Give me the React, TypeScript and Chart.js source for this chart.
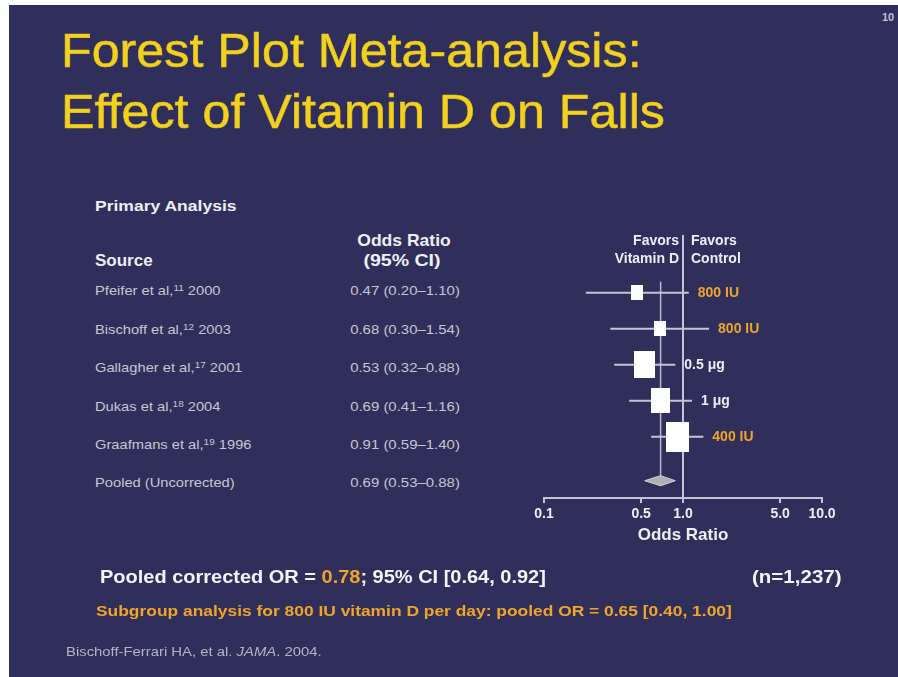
import React, { useEffect, useRef } from "react";
import { Chart, registerables } from "chart.js";

Chart.register(...registerables);

// ---------- data ----------
const studies = ["Pfeifer et al,", "Bischoff et al,", "Gallagher et al,", "Dukas et al,", "Graafmans et al,"];
const refNums = ["11", "12", "17", "18", "19"];
const years = ["2000", "2003", "2001", "2004", "1996"];
const oddsRatio = [0.47, 0.68, 0.53, 0.69, 0.91];
const ciLow = [0.2, 0.3, 0.32, 0.41, 0.59];
const ciHigh = [1.1, 1.54, 0.88, 1.16, 1.4];
const weights = [8.5, 8.5, 27, 23.5, 32.5];
const doses = ["800 IU", "800 IU", "0.5 μg", "1 μg", "400 IU"];
const pooledLabel = "Pooled (Uncorrected)";
const pooledOR = 0.69;
const pooledLow = 0.53;
const pooledHigh = 0.88;
const tickValues = [0.1, 0.5, 1, 5, 10];
const tickLabels = ["0.1", "0.5", "1.0", "5.0", "10.0"];
const favorsLeft = ["Favors", "Vitamin D"];
const favorsRight = ["Favors", "Control"];

// ---------- styles ----------
const FONT = "'Liberation Sans', Arial, Helvetica, sans-serif";
const NAVY = "#302f5b";
const YELLOW = "#f1d31f";
const ORANGE = "#eea52a";
const WHITE = "#eeeef4";
const ROWGRAY = "#c6c6d2";
const LINEGRAY = "#c4c4d6";

const Y_TOP = -1.6;
const Y_BOTTOM = 5.7;
const POOLED_ROW = studies.length + 0.22;

type TxtProps = {
  x: number;
  y: number;
  fs: number;
  bold?: boolean;
  italic?: boolean;
  color: string;
  sx?: number;
  align?: "left" | "center";
  stroke?: string;
  children: React.ReactNode;
};

function Txt({ x, y, fs, bold, italic, color, sx = 1, align = "left", stroke, children }: TxtProps) {
  const top = y - 0.8465 * fs;
  const transform =
    align === "center" ? `translateX(-50%) scaleX(${sx})` : `scaleX(${sx})`;
  return (
    <div
      style={{
        position: "absolute",
        left: x,
        top,
        fontFamily: FONT,
        fontSize: fs,
        lineHeight: 1,
        fontWeight: bold ? 700 : 400,
        fontStyle: italic ? "italic" : "normal",
        color,
        whiteSpace: "nowrap",
        transform,
        transformOrigin: align === "center" ? "center" : "left",
        WebkitTextStroke: stroke,
      }}
    >
      {children}
    </div>
  );
}

const Sup = ({ children }: { children: React.ReactNode }) => (
  <span style={{ fontSize: "0.68em", position: "relative", top: "-0.45em" }}>{children}</span>
);

const fmt = (v: number) => v.toFixed(2);

export default function App() {
  const canvasRef = useRef<HTMLCanvasElement>(null);

  useEffect(() => {
    const canvas = canvasRef.current;
    if (!canvas) return;

    const boxImgs = weights.map((w) => {
      const c = document.createElement("canvas");
      c.width = Math.round(4 * Math.sqrt(w));
      c.height = Math.round(5.2 * Math.sqrt(w));
      const g = c.getContext("2d")!;
      g.fillStyle = "#ffffff";
      g.fillRect(0, 0, c.width, c.height);
      return c;
    });

    const dh = 0.14;

    const labelsPlugin = {
      id: "forestLabels",
      afterDatasetsDraw(chart: any) {
        const { ctx, chartArea, scales } = chart;
        const x = scales.x;
        const y = scales.y;
        ctx.save();
        ctx.font = `bold 14px ${FONT}`;
        ctx.textBaseline = "middle";
        const x1 = x.getPixelForValue(1);
        ctx.fillStyle = WHITE;
        ctx.textAlign = "right";
        ctx.fillText(favorsLeft[0], x1 - 4, chartArea.top + 6);
        ctx.fillText(favorsLeft[1], x1 - 4, chartArea.top + 24);
        ctx.textAlign = "left";
        ctx.fillText(favorsRight[0], x1 + 8, chartArea.top + 6);
        ctx.fillText(favorsRight[1], x1 + 8, chartArea.top + 24);
        doses.forEach((d, i) => {
          ctx.fillStyle = d.includes("IU") ? ORANGE : WHITE;
          ctx.fillText(d, x.getPixelForValue(ciHigh[i]) + 9, y.getPixelForValue(i));
        });
        ctx.restore();
      },
    };

    const datasets: any[] = [
      {
        label: "boxes",
        data: oddsRatio.map((v, i) => ({ x: v, y: i })),
        pointStyle: (c: any) => boxImgs[c.dataIndex] ?? "rect",
        pointRadius: 5,
        showLine: false,
      },
      {
        label: "pooled",
        data: [
          { x: pooledLow, y: POOLED_ROW },
          { x: pooledOR, y: POOLED_ROW - dh },
          { x: pooledHigh, y: POOLED_ROW },
          { x: pooledOR, y: POOLED_ROW + dh },
          { x: pooledLow, y: POOLED_ROW },
        ],
        showLine: true,
        fill: "shape",
        backgroundColor: "#b0b0b4",
        borderColor: "#d2d2d6",
        borderWidth: 1,
        pointRadius: 0,
        tension: 0,
      },
      ...ciLow.map((lo, i) => ({
        label: "ci" + i,
        data: [
          { x: lo, y: i },
          { x: ciHigh[i], y: i },
        ],
        showLine: true,
        borderColor: LINEGRAY,
        borderWidth: 2,
        pointRadius: 0,
      })),
      {
        label: "pooledLine",
        data: [
          { x: pooledOR, y: -0.3 },
          { x: pooledOR, y: POOLED_ROW },
        ],
        showLine: true,
        borderColor: "#b8b8cc",
        borderWidth: 1.5,
        pointRadius: 0,
      },
      {
        label: "refLine",
        data: [
          { x: 1, y: Y_TOP },
          { x: 1, y: Y_BOTTOM },
        ],
        showLine: true,
        borderColor: LINEGRAY,
        borderWidth: 2,
        pointRadius: 0,
      },
    ];

    const chart = new Chart(canvas, {
      type: "scatter",
      data: { datasets },
      options: {
        animation: false,
        responsive: false,
        maintainAspectRatio: false,
        devicePixelRatio: 1,
        events: [],
        layout: { padding: { left: 544, right: 76, top: 235, bottom: 129 } },
        plugins: {
          legend: { display: false },
          tooltip: { enabled: false },
        },
        scales: {
          x: {
            type: "logarithmic",
            position: "bottom",
            min: 0.1,
            max: 10,
            afterBuildTicks: (scale: any) => {
              scale.ticks = tickValues.map((v) => ({ value: v }));
            },
            afterFit: (scale: any) => {
              scale.height = 50;
            },
            ticks: {
              autoSkip: false,
              maxRotation: 0,
              minRotation: 0,
              padding: 3,
              color: WHITE,
              font: { family: FONT, size: 14, weight: "bold" },
              callback: (_v: any, i: number) => tickLabels[i],
            },
            grid: {
              drawOnChartArea: false,
              drawTicks: true,
              tickLength: 5,
              color: LINEGRAY,
              lineWidth: 2,
            },
            border: { display: true, color: LINEGRAY, width: 2 },
            title: {
              display: true,
              text: "Odds Ratio",
              color: WHITE,
              font: { family: FONT, size: 17, weight: "bold" },
              padding: { top: 0, bottom: 2 },
            },
          },
          y: {
            type: "linear",
            display: false,
            reverse: true,
            min: Y_TOP,
            max: Y_BOTTOM,
          },
        },
      } as any,
      plugins: [labelsPlugin],
    });

    return () => chart.destroy();
  }, []);

  const rowBase = (i: number) => 295 + i * 38.6;

  return (
    <div
      style={{
        position: "fixed",
        left: 0,
        top: 0,
        width: 898,
        height: 677,
        background: "#ffffff",
        overflow: "hidden",
      }}
    >
      <div
        style={{
          position: "absolute",
          left: 9,
          top: 5,
          right: 0,
          bottom: 0,
          background: NAVY,
        }}
      />

      <Txt x={61} y={67} fs={49} sx={1.025} stroke="0.6px #e8c21c" color={YELLOW}>
        Forest Plot Meta-analysis:
      </Txt>
      <Txt x={61} y={128} fs={49} sx={1.025} stroke="0.6px #e8c21c" color={YELLOW}>
        Effect of Vitamin D on Falls
      </Txt>
      <Txt x={882} y={21} fs={11} bold color="#c0c0d0">
        10
      </Txt>

      <Txt x={95} y={211.5} fs={15.5} bold sx={1.13} color={WHITE}>
        Primary Analysis
      </Txt>
      <Txt x={95} y={266} fs={17} bold color={WHITE}>
        Source
      </Txt>
      <Txt x={404} y={246} fs={17} bold sx={1.03} align="center" color={WHITE}>
        Odds Ratio
      </Txt>
      <Txt x={402} y={266} fs={17} bold sx={1.15} align="center" color={WHITE}>
        (95% CI)
      </Txt>

      {studies.map((s, i) => (
        <React.Fragment key={s}>
          <Txt x={95} y={rowBase(i)} fs={13} sx={1.13} color={ROWGRAY}>
            {s}
            <Sup>{refNums[i]}</Sup> {years[i]}
          </Txt>
          <Txt x={405} y={rowBase(i)} fs={13} sx={1.15} align="center" color={ROWGRAY}>
            {`${fmt(oddsRatio[i])} (${fmt(ciLow[i])}–${fmt(ciHigh[i])})`}
          </Txt>
        </React.Fragment>
      ))}
      <Txt x={95} y={rowBase(studies.length) - 1} fs={13} sx={1.13} color={ROWGRAY}>
        {pooledLabel}
      </Txt>
      <Txt x={405} y={rowBase(studies.length) - 1} fs={13} sx={1.15} align="center" color={ROWGRAY}>
        {`${fmt(pooledOR)} (${fmt(pooledLow)}–${fmt(pooledHigh)})`}
      </Txt>

      <canvas
        ref={canvasRef}
        width={898}
        height={677}
        style={{ position: "absolute", left: 0, top: 0, width: 898, height: 677 }}
      />

      <Txt x={100} y={583} fs={18} bold sx={1.11} color="#f4f4f8">
        Pooled corrected OR = <span style={{ color: ORANGE }}>0.78</span>; 95% CI [0.64, 0.92]
      </Txt>
      <Txt x={752} y={583} fs={18} bold sx={1.14} color="#f4f4f8">
        (n=1,237)
      </Txt>
      <Txt x={96} y={616} fs={15} bold sx={1.16} color={ORANGE}>
        Subgroup analysis for 800 IU vitamin D per day: pooled OR = 0.65 [0.40, 1.00]
      </Txt>
      <Txt x={66} y={656} fs={13.5} sx={1.1} color="#b4b4c6">
        Bischoff-Ferrari HA, et al. <i>JAMA</i>. 2004.
      </Txt>
    </div>
  );
}
